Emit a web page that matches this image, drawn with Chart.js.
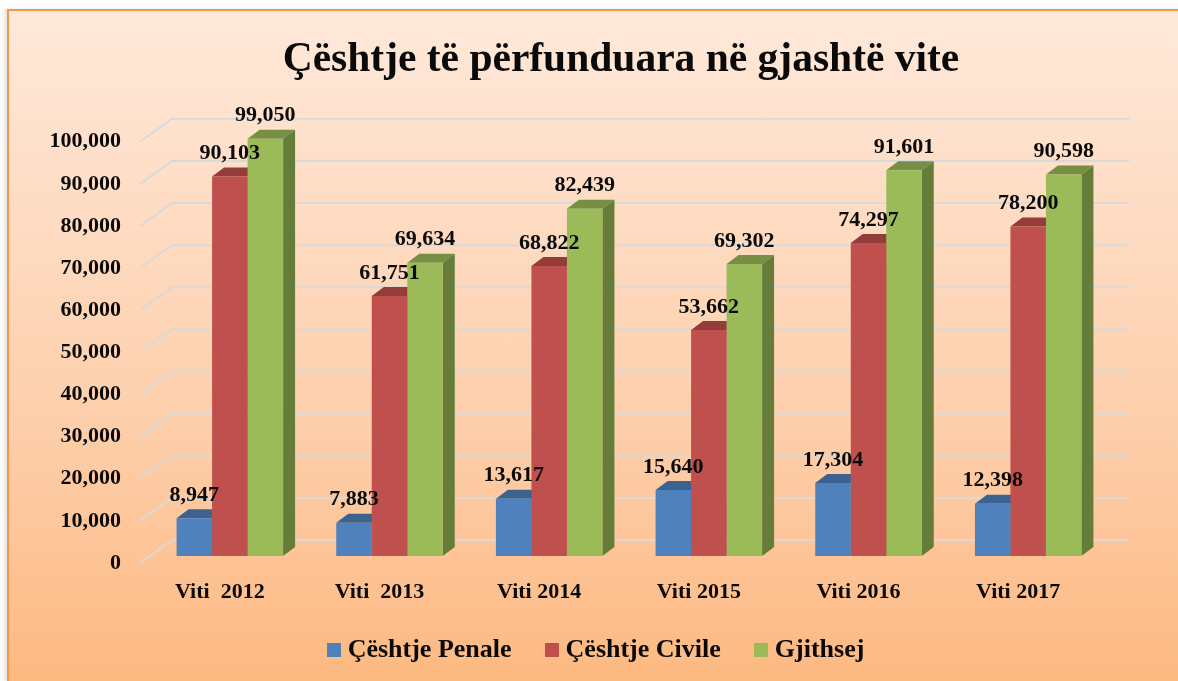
<!DOCTYPE html>
<html><head><meta charset="utf-8">
<style>
html,body{margin:0;padding:0;background:#fff;width:1178px;height:681px;overflow:hidden}
#card{position:absolute;left:7px;top:9px;width:1200px;height:672px;box-sizing:border-box;border:solid #f79646;border-width:2px 0 0 2px;background:linear-gradient(180deg,#fee9da 0%,#fedcc3 30%,#fdcda8 65%,#fdb981 100%);box-shadow:-3px 0 3px rgba(0,0,0,.1)}
canvas{position:absolute;left:0;top:0}
</style>
<script src="https://cdn.jsdelivr.net/npm/chart.js@4"></script>
</head><body><div id="card"></div><canvas id="c" width="1178" height="681"></canvas>
<script>
const categories = ["Viti  2012","Viti  2013","Viti 2014","Viti 2015","Viti 2016","Viti 2017"];
const penale = [8947,7883,13617,15640,17304,12398];
const civile = [90103,61751,68822,53662,74297,78200];
const gjithsej = [99050,69634,82439,69302,91601,90598];
const seriesNames = ["Çështje Penale","Çështje Civile","Gjithsej"];
const titleText = "Çështje të përfunduara në gjashtë vite";

const FONT = '"Liberation Serif"';
const faces = [
  {front:'#4f81bd',top:'#3c6390',side:'#35597f'},
  {front:'#c0504d',top:'#933c3a',side:'#843533'},
  {front:'#9bbb59',top:'#768f43',side:'#667d3a'}
];
const BAR = {dx:10,dy:-7};     // bar plane relative to floor front edge
const D3 = {dx:12,dy:-9};      // bar depth
const WALL = {dx:32,dy:-23};   // back wall relative to floor front edge

function swatch(c){const k=document.createElement('canvas');k.width=14;k.height=14;const x=k.getContext('2d');x.fillStyle=c;x.fillRect(0,0,14,14);return k;}

const threeD = {
  id:'threeD',
  afterLayout(chart){
    chart.legend.left=100;
    chart.legend.right=1098;
    chart.legend.top-=8;
    chart.legend.bottom-=8;
    chart.titleBlock.left+=2;
    chart.titleBlock.right+=2;
  },
  beforeDatasetsDraw(chart){
    const {ctx,scales:{y},chartArea:a}=chart;
    ctx.save();
    ctx.strokeStyle='#d9d9d9';ctx.lineWidth=2;ctx.lineJoin='miter';
    y.ticks.forEach(t=>{
      const py=y.getPixelForValue(t.value);
      ctx.beginPath();
      ctx.moveTo(a.left,py);
      ctx.lineTo(a.left+WALL.dx,py+WALL.dy);
      ctx.lineTo(a.right+WALL.dx-1,py+WALL.dy);
      ctx.stroke();
    });
    ctx.restore();
    ctx.save();
    ctx.translate(BAR.dx,BAR.dy);
    chart.data.datasets.forEach((d,i)=>{
      chart.getDatasetMeta(i).data.forEach(b=>{
        const p=b.getProps(['x','y','base','width'],true);
        const l=p.x-p.width/2,r=p.x+p.width/2;
        ctx.fillStyle=faces[i].side;
        ctx.beginPath();ctx.moveTo(r,p.y);ctx.lineTo(r+D3.dx,p.y+D3.dy);ctx.lineTo(r+D3.dx,p.base+D3.dy);ctx.lineTo(r,p.base);ctx.closePath();ctx.fill();
        ctx.fillStyle=faces[i].top;
        ctx.beginPath();ctx.moveTo(l,p.y);ctx.lineTo(l+D3.dx,p.y+D3.dy);ctx.lineTo(r+D3.dx,p.y+D3.dy);ctx.lineTo(r,p.y);ctx.closePath();ctx.fill();
      });
    });
  },
  afterDatasetsDraw(chart){
    const ctx=chart.ctx;
    ctx.font='bold 22px '+FONT;ctx.fillStyle='#0a0a0a';ctx.textAlign='center';ctx.textBaseline='middle';
    chart.data.datasets.forEach((d,i)=>{
      chart.getDatasetMeta(i).data.forEach((b,j)=>{
        const p=b.getProps(['x','y'],true);
        ctx.fillText(d.data[j].toLocaleString('en-US'),p.x,p.y-23);
      });
    });
    ctx.restore();
  }
};

new Chart(document.getElementById('c'),{
  type:'bar',
  data:{labels:categories,datasets:[
    {label:seriesNames[0],data:penale,backgroundColor:faces[0].front},
    {label:seriesNames[1],data:civile,backgroundColor:faces[1].front},
    {label:seriesNames[2],data:gjithsej,backgroundColor:faces[2].front}
  ]},
  plugins:[threeD],
  options:{
    responsive:false,animation:false,
    layout:{padding:{left:0,right:80,top:35,bottom:0}},
    datasets:{bar:{barPercentage:1,categoryPercentage:0.667}},
    plugins:{
      title:{display:true,text:titleText,fullSize:false,color:'#0a0a0a',font:{family:FONT,size:41.5,weight:'bold'},padding:{top:0,bottom:57}},
      legend:{position:'bottom',align:'center',fullSize:true,
        labels:{color:'#0a0a0a',font:{family:FONT,size:26,weight:'bold'},usePointStyle:true,pointStyleWidth:1,boxHeight:14,padding:40,
          generateLabels(chart){return chart.data.datasets.map((d,i)=>({text:d.label,fillStyle:d.backgroundColor,strokeStyle:d.backgroundColor,lineWidth:0,pointStyle:swatch(d.backgroundColor),datasetIndex:i,fontColor:'#0a0a0a',hidden:false}));}
        }},
      tooltip:{enabled:false}
    },
    scales:{
      x:{grid:{display:false},border:{display:false},ticks:{color:'#0a0a0a',padding:8,maxRotation:0,autoSkip:false,font:{family:FONT,size:22,weight:'bold'}},afterFit(s){s.height=42;}},
      y:{min:0,max:100000,grid:{display:false},border:{display:false},
        ticks:{stepSize:10000,color:'#0a0a0a',padding:11,font:{family:FONT,size:22,weight:'bold'},callback:v=>v.toLocaleString('en-US')},
        afterFit(s){s.width=140;}}
    }
  }
});
</script></body></html>
